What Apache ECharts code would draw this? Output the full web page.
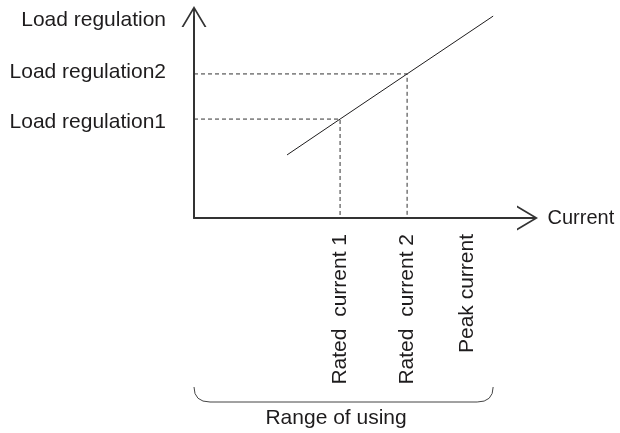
<!DOCTYPE html>
<html>
<head>
<meta charset="utf-8">
<script src="https://cdn.jsdelivr.net/npm/echarts@6/dist/echarts.min.js"></script>
<style>
  html, body { margin: 0; background: #fff; }
  #chart { width: 620px; height: 433px; }
</style>
</head>
<body>
<div id="chart"></div>
<script>
// axis positions (arbitrary 0..10 units both ways)
const currentValues = [4.38, 6.39, 8.19]
const currentLabels = ['Rated  current 1', 'Rated  current 2', 'Peak current']
const regulationValues = [4.74, 7.22, 9.81]
const regulationLabels = ['Load regulation1', 'Load regulation2', 'Load regulation']

// the characteristic line and the two dashed read-offs
const regulationLine = [[2.79, 3.13], [4.38, 4.91], [6.39, 7.15], [8.97, 10.02]]
const guide1 = [[0, 4.91], [4.38, 4.91], [4.38, 0]]
const guide2 = [[0, 7.15], [6.39, 7.15], [6.39, 0]]

// brace under the x axis: from, to, label centre
const usingRange = [[0, 8.97, 4.26]]
const usingLabel = 'Range of using'

const ink = '#1e1c1d'
const font = '"Liberation Sans", Arial, sans-serif'
// open chevron with a short shaft, pointing up (echarts rotates it)
const chevron = 'path://M12.5,0 L25,21 L23,21 L12.5,3.3 L2,21 L0,21 Z M11.6,1.5 L13.4,1.5 L13.4,21 L11.6,21 Z'

const chart = echarts.init(document.getElementById('chart'))

chart.setOption({
  animation: false,
  grid: {
    left: 194,
    right: 92.5,
    top: 16.5,
    bottom: 215,
    containLabel: false,
    outerBoundsMode: 'none',
  },
  xAxis: {
    type: 'value',
    min: 0,
    max: 10,
    name: 'Current',
    nameLocation: 'end',
    nameGap: 20,
    nameTextStyle: { color: ink, fontSize: 20, fontFamily: font, verticalAlign: 'middle' },
    axisLine: {
      lineStyle: { color: '#333', width: 2 },
      symbol: ['none', chevron],
      symbolSize: [25, 21],
    },
    axisTick: { show: false },
    splitLine: { show: false },
    axisLabel: {
      customValues: currentValues,
      formatter: (v) => currentLabels[currentValues.indexOf(v)] || '',
      rotate: 90,
      margin: 16,
      color: ink,
      fontSize: 21,
      fontFamily: font,
    },
  },
  yAxis: {
    type: 'value',
    min: 0,
    max: 10,
    axisLine: {
      show: true,
      lineStyle: { color: '#333', width: 2 },
      symbol: ['none', chevron],
      symbolSize: [25, 21],
    },
    axisTick: { show: false },
    splitLine: { show: false },
    axisLabel: {
      customValues: regulationValues,
      formatter: (v) => regulationLabels[regulationValues.indexOf(v)] || '',
      margin: 28,
      color: ink,
      fontSize: 21,
      fontFamily: font,
    },
  },
  series: [
    {
      type: 'line',
      data: guide1,
      symbol: 'none',
      silent: true,
      lineStyle: { color: '#333', width: 1, type: [4, 3] },
    },
    {
      type: 'line',
      data: guide2,
      symbol: 'none',
      silent: true,
      lineStyle: { color: '#333', width: 1, type: [4, 3] },
    },
    {
      type: 'line',
      data: regulationLine,
      symbol: 'none',
      clip: false,
      lineStyle: { color: ink, width: 1 },
    },
    {
      type: 'custom',
      clip: false,
      silent: true,
      data: usingRange,
      renderItem(params, api) {
        const a = api.coord([api.value(0), 0])
        const b = api.coord([api.value(1), 0])
        const c = api.coord([api.value(2), 0])
        const top = a[1] + 169
        const bot = a[1] + 184
        const r = 16
        return {
          type: 'group',
          children: [
            {
              type: 'path',
              shape: {
                pathData: `M${a[0]},${top} Q${a[0]},${bot} ${a[0] + r},${bot} L${b[0] - r},${bot} Q${b[0]},${bot} ${b[0]},${top}`,
              },
              style: { fill: null, stroke: '#444', lineWidth: 1 },
            },
            {
              type: 'text',
              x: c[0],
              y: bot + 16,
              style: {
                text: usingLabel,
                fill: ink,
                fontSize: 21,
                fontFamily: font,
                align: 'center',
                verticalAlign: 'middle',
              },
            },
          ],
        }
      },
    },
  ],
})
</script>
</body>
</html>
